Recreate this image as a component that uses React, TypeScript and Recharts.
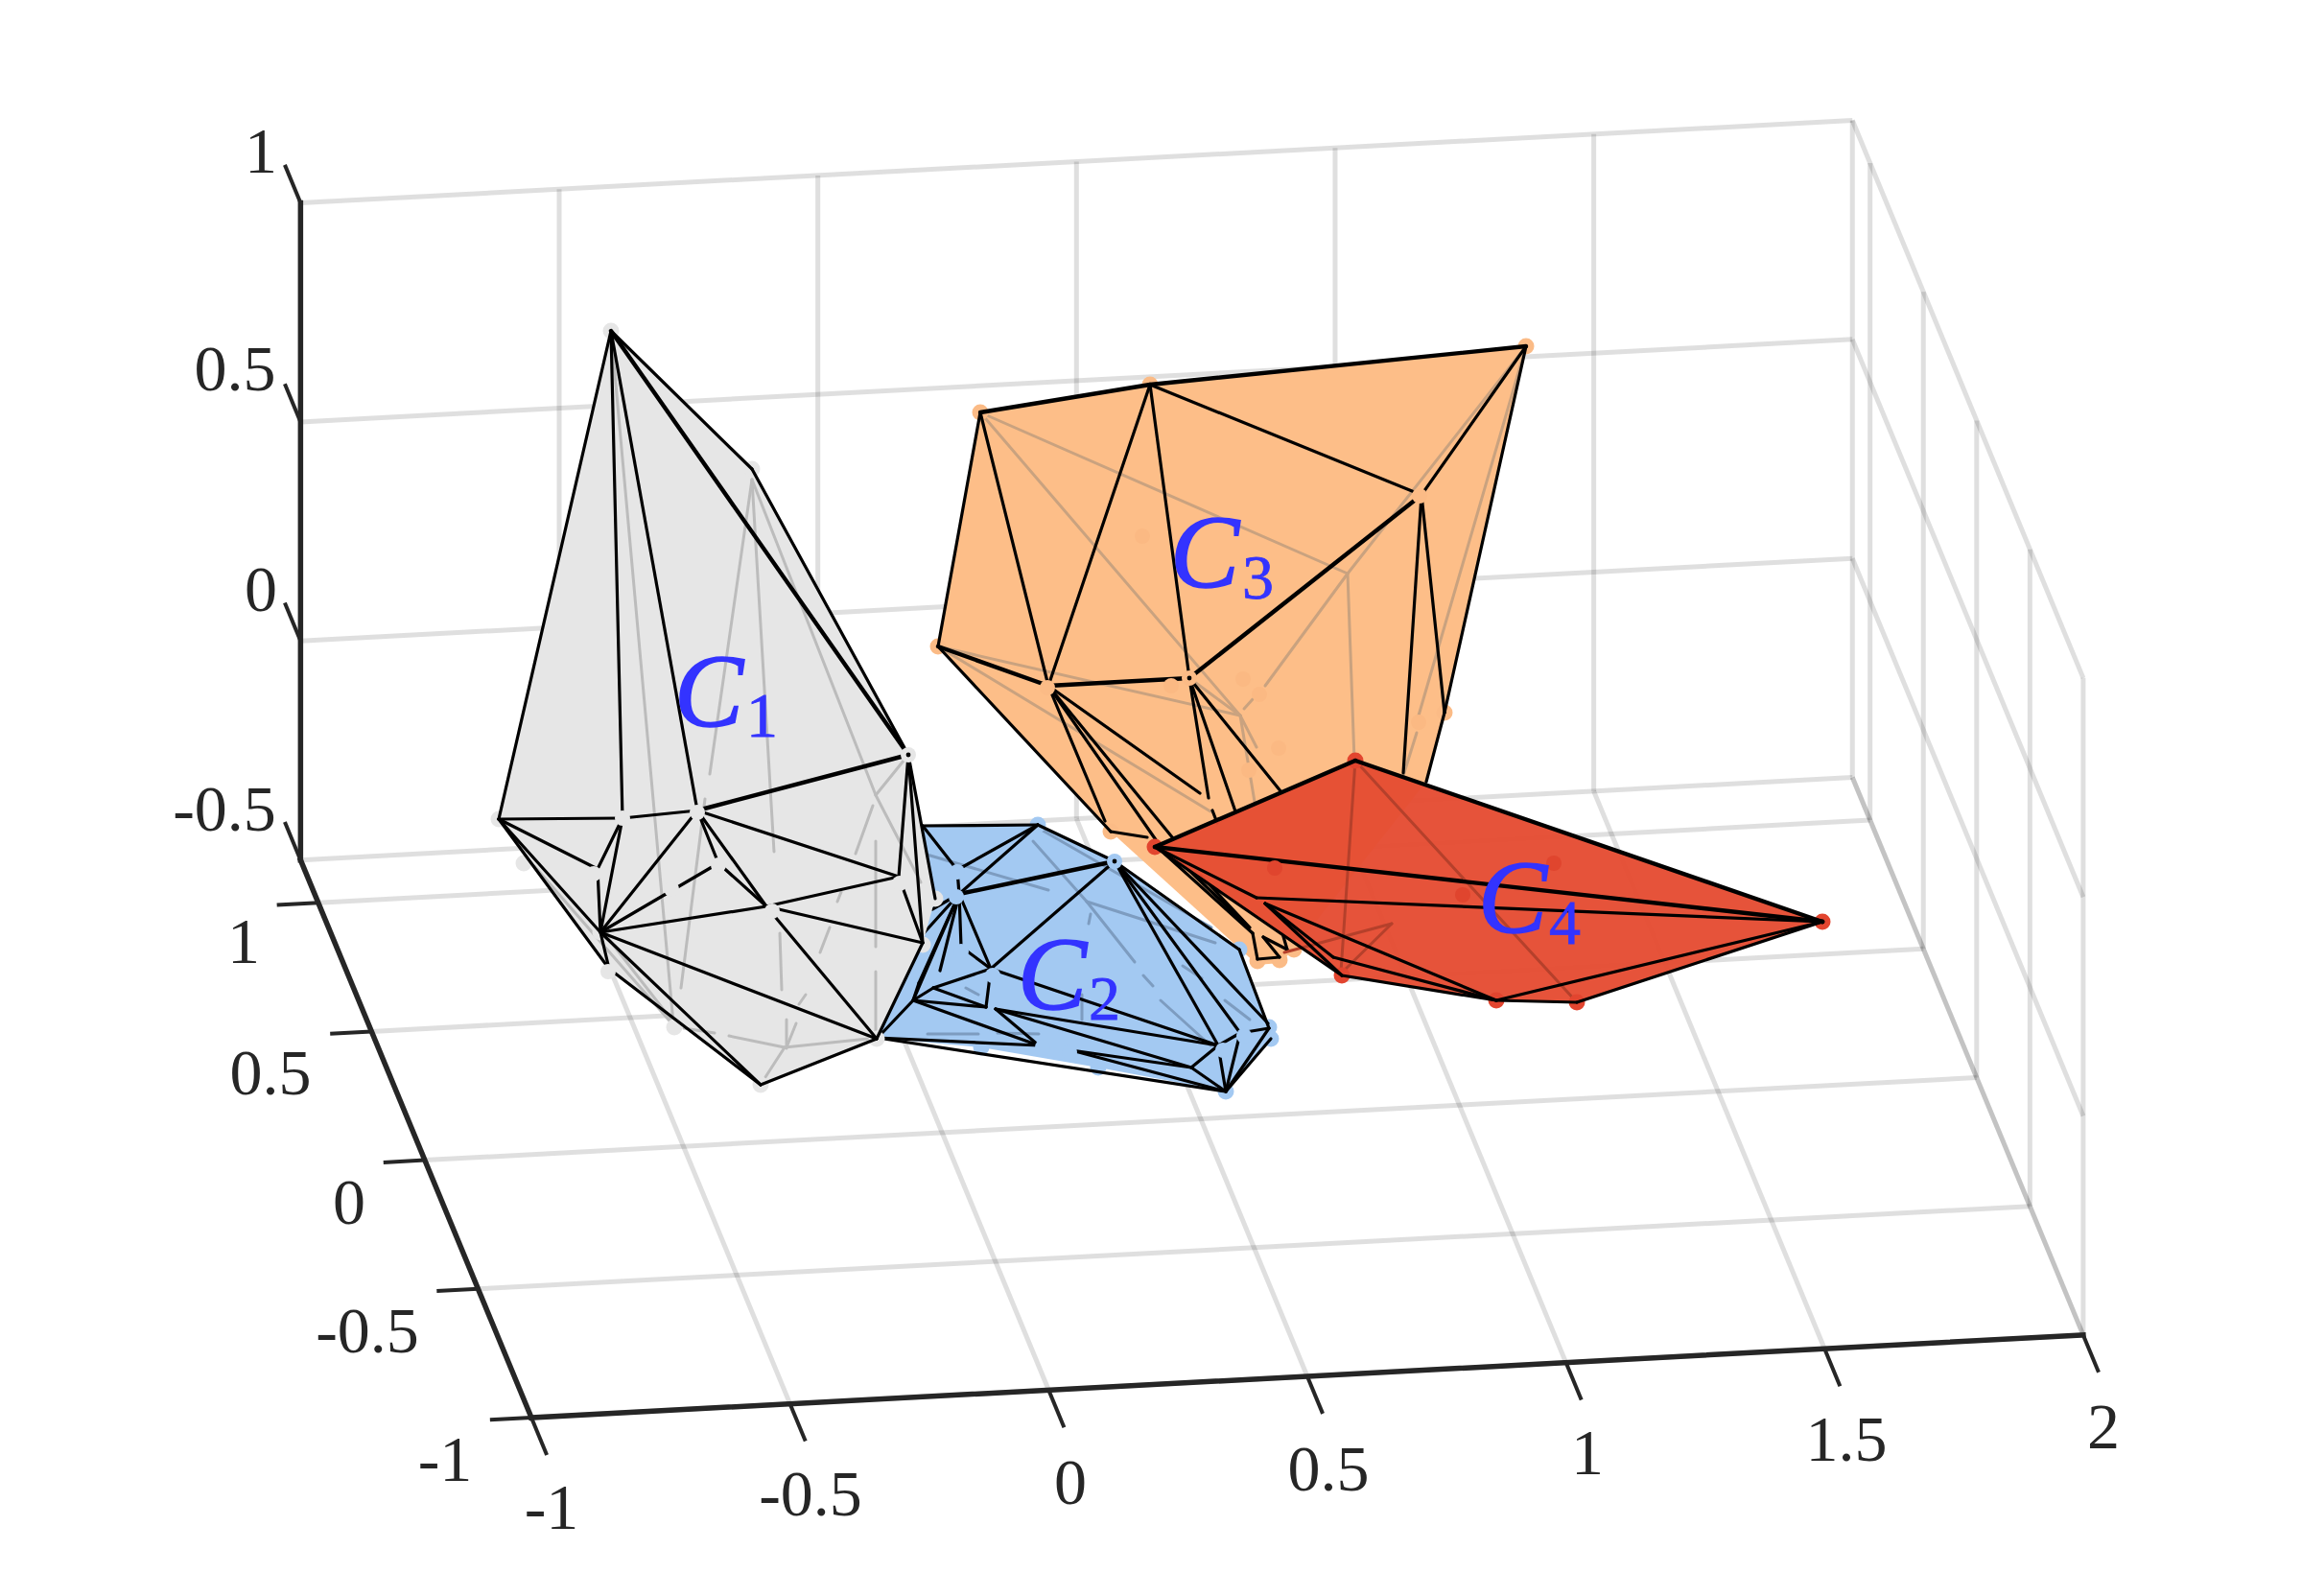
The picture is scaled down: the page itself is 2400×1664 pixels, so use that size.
import React from 'react';
import { ScatterChart, Scatter, XAxis, YAxis } from 'recharts';

// ---------- axis data ----------
const xTicks = [-1, -0.5, 0, 0.5, 1, 1.5, 2];
const yTicks = [-1, -0.5, 0, 0.5, 1];
const zTicks = [-0.5, 0, 0.5, 1];
const yMax = 1.166;
const xTickLabels = [
  { label: '-1', x: 575, y: 1571 }, { label: '-0.5', x: 845, y: 1557 }, { label: '0', x: 1116, y: 1545 },
  { label: '0.5', x: 1385, y: 1531 }, { label: '1', x: 1655, y: 1514 }, { label: '1.5', x: 1925, y: 1500 }, { label: '2', x: 2193, y: 1487 },
];
const yTickLabels = [
  { label: '-1', x: 464, y: 1521 }, { label: '-0.5', x: 383, y: 1387 }, { label: '0', x: 364, y: 1253 },
  { label: '0.5', x: 282, y: 1118 }, { label: '1', x: 254, y: 981 },
];
const zTickLabels = [
  { label: '-0.5', x: 234, y: 843 }, { label: '0', x: 272, y: 614 }, { label: '0.5', x: 245, y: 384 }, { label: '1', x: 272, y: 157 },
];
const clusterLabels = [
  { c: 'C', sub: '1', x: 703, y: 757, sx: 778, sy: 768 },
  { c: 'C', sub: '2', x: 1061, y: 1052, sx: 1135, sy: 1063 },
  { c: 'C', sub: '3', x: 1220, y: 612, sx: 1295, sy: 624 },
  { c: 'C', sub: '4', x: 1541, y: 972, sx: 1615, sy: 984 },
];

// orthographic view of the 3-D box, projected into picture units
const project = (x: number, y: number, z: number) => ({
  x: 554 + (x + 1) * 539.3 - (y + 1) * 111.1,
  y: 1478 - (x + 1) * 28.7 - (y + 1) * 268.4 - (z + 0.5) * 456.7,
});
const seg3 = (a: number[], b: number[]) => [project(a[0], a[1], a[2]), project(b[0], b[1], b[2])];

const gridSegments = [
  ...xTicks.map((x) => seg3([x, yMax, -0.5], [x, yMax, 1])),
  ...zTicks.map((z) => seg3([-1, yMax, z], [2, yMax, z])),
  ...yTicks.map((y) => seg3([2, y, -0.5], [2, y, 1])),
  ...zTicks.map((z) => seg3([2, yMax, z], [2, -1, z])),
  ...xTicks.map((x) => seg3([x, yMax, -0.5], [x, -1, -0.5])),
  ...yTicks.map((y) => seg3([-1, y, -0.5], [2, y, -0.5])),
];
const axisSegments = [
  seg3([-1, yMax, -0.5], [-1, yMax, 1]),
  seg3([-1, yMax, -0.5], [-1, -1, -0.5]),
  seg3([-1, -1, -0.5], [2, -1, -0.5]),
];
const tickSegments = [
  ...xTicks.map((x) => seg3([x, -1, -0.5], [x, -1.145, -0.5])),
  ...yTicks.map((y) => seg3([-1, y, -0.5], [-1.08, y, -0.5])),
  ...zTicks.map((z) => seg3([-1, yMax, z], [-1, yMax + 0.148, z])),
];

// ---------- cluster C1 ----------
const c1V: Record<string, number[]> = {
  A: [637, 345], B: [784, 489], R: [947, 787], L: [520, 854], M1: [649, 853], M2: [727, 845], P: [623, 906], Q: [626, 972],
  N: [749, 900], K: [799, 945], S: [937, 914], T: [962, 983], U: [914, 1083], V: [793, 1131], W: [635, 1010], X: [975, 937],
};
const c1Hull = ['A', 'B', 'R', 'X', 'T', 'U', 'V', 'W', 'L'];
const c1Edges = 'A-L A-M1 A-M2 A-B B-R L-M1 M1-M2 L-P L-Q L-W P-Q P-M1 Q-M1 Q-M2 Q-N M2-N M2-K N-K Q-K K-S K-T K-U M2-S S-R T-R S-T R-X Q-U Q-V Q-W W-V U-V T-U';
const c1Bold = 'A-R M2-R';
const c1Hidden = [
  [637, 345, 702, 1067], [784, 500, 740, 807], [735, 833, 710, 1030], [784, 500, 807, 888], [784, 500, 913, 829], [947, 787, 913, 829], [913, 829, 960, 920],
  [910, 840, 892, 890], [913, 877, 913, 987], [913, 1013, 913, 1080], [877, 930, 873, 940], [865, 967, 855, 993],
  [813, 973, 815, 1032], [820, 1063, 820, 1093], [830, 1067, 820, 1092], [840, 1037, 833, 1047],
  [818, 1092, 760, 1080], [818, 1092, 905, 1083], [818, 1092, 798, 1123], [713, 1072, 745, 1077], [557, 903, 703, 1070], [633, 977, 703, 1067],
];
const c1Under = [[637, 345], [784, 489], [520, 854], [546, 900], [703, 1071], [793, 1131], [914, 1083], [962, 985], [975, 937], [626, 972]];
const c1Over = [[649, 853], [727, 847], [947, 787], [619, 911], [749, 902], [805, 950], [938, 921], [634, 1013], [700, 927]];
const c1Dots = [[947, 787]];

// ---------- cluster C2 ----------
const c2V: Record<string, number[]> = {
  n: [962, 861], a: [1082, 860], b: [1162, 898], c: [1000, 932], cp: [998, 907], d: [1033, 1010], e: [1292, 990], e2: [1322, 1067],
  f: [1323, 1072], f2: [1325, 1083], g: [1278, 1138], h: [1270, 1090], i: [1293, 1077], j: [1242, 1113], k: [1145, 1113], l: [1023, 1092],
  m: [915, 1082], o: [1038, 1052], p: [1028, 1050], q: [973, 1030], r: [952, 1043], s: [958, 1025], t: [1083, 1090], u: [1117, 1095],
  v: [1002, 987], w: [980, 1012], x1: [963, 973], x2: [972, 948],
};
const c2Hull = ['n', 'a', 'b', 'e', 'f', 'f2', 'g', 'k', 'l', 'm'];
const c2Edges = 'n-a a-b a-cp a-c b-d c-d cp-c n-cp c-v c-w c-s c-r c-x1 c-x2 v-d d-q d-p d-h p-r q-p r-t o-h o-j o-t u-j h-j b-h b-i b-e2 b-e e-f i-f h-i h-g i-g f-g f2-g m-t m-g u-g j-g r-m r-s q-r';
const c2Bold = 'b-c';
const c2Hidden = [
  [1133, 940, 1077, 877], [1133, 940, 1183, 1003], [1082, 863, 1263, 967], [963, 890, 1093, 928], [1137, 953, 1135, 963], [1128, 1037, 1128, 1063],
  [1192, 1017, 1202, 1028], [1210, 1043, 1262, 1090], [1233, 1007, 1253, 1020], [1133, 940, 1267, 983], [967, 1078, 1020, 1078], [1040, 1077, 1083, 1078],
  [1007, 1030, 1020, 1037], [1277, 1043, 1303, 1063],
];
const c2Under = [[1082, 860], [1292, 990], [1323, 1071], [1325, 1083], [1278, 1138], [1145, 1113], [1023, 1092]];
const c2Over = [[1162, 898], [997, 935], [998, 909], [1035, 1017], [1275, 1095], [1297, 1080], [1002, 992], [1087, 1092], [1115, 1097]];
const c2Dots = [[1162, 898]];

// ---------- cluster C3 ----------
const c3V: Record<string, number[]> = {
  A: [1022, 430], B: [1199, 401], C: [1591, 361], D: [1482, 516], E: [978, 674], F: [1093, 715], G: [1240, 707], H: [1506, 743],
  I: [1487, 815], K: [1158, 867], F1: [1152, 856], F2: [1206, 877], F3: [1223, 874], F4: [1251, 827], G1: [1260, 832], G2: [1288, 846], G3: [1336, 826],
  D1: [1463, 806], K2: [1196, 873], P1: [1306, 973], P2: [1311, 1000], P3: [1334, 998], P4: [1342, 990], P5: [1317, 977], P6: [1337, 973],
  Q1: [1214, 890], Q2: [1232, 900], Q3: [1252, 913], Q4: [1298, 963], Q5: [1303, 967], H1: [1264, 845], H2: [1269, 858],
};
const c3Hull = [[1022, 430], [1199, 401], [1591, 361], [1506, 743], [1487, 815], [1349, 990], [1334, 1004], [1311, 1006], [1158, 867], [978, 674]];
const c3Edges = 'A-E C-H H-I C-D B-D B-G B-F A-F D-H D-D1 E-K F-F1 F-F2 F-F3 F-F4 G-G1 G-G2 G-G3 K-K2 Q1-P1 Q2-Q4 Q3-Q5 P1-P2 P2-P3 P3-P5 P5-P4 P6-P4 H1-H2';
const c3Bold = 'A-B B-C D-G E-F F-G';
const c3Hidden = [
  [1022, 430, 1405, 598], [1022, 430, 1293, 746], [978, 674, 1293, 746], [978, 674, 1262, 846], [1240, 707, 1293, 746], [1405, 598, 1591, 361],
  [1405, 598, 1319, 715], [1306, 729, 1297, 739], [1405, 598, 1412, 793], [1293, 746, 1310, 779], [1293, 746, 1308, 836], [1591, 361, 1479, 746], [1477, 764, 1462, 812],
];
const c3Under = [[1022, 430], [1199, 401], [1591, 361], [978, 674], [1506, 743], [1158, 867], [1311, 1002], [1334, 1001], [1349, 990]];
const c3Over = [[1480, 517], [1240, 707], [1092, 717]];
const c3Faint = [[1191, 559], [1296, 708], [1313, 724], [1333, 780], [1479, 753], [1221, 715], [1302, 803]];
const c3Dots = [[1240, 707]];

// ---------- cluster C4 ----------
const c4V: Record<string, number[]> = {
  a: [1204, 883], b: [1413, 793], c: [1900, 961], d: [1560, 1043], e: [1644, 1045], f: [1399, 1017], g: [1310, 936], h: [1319, 942], i: [1390, 998],
};
const c4Hull = ['a', 'b', 'c', 'e', 'd', 'f'];
const c4Edges = 'a-g g-c h-d h-i i-d h-f f-d d-e e-c d-c a-f';
const c4Bold = 'a-b b-c a-c';
const c4Hidden = [
  [1413, 793, 1398, 1013], [1413, 793, 1644, 1045], [1451, 963, 1339, 993], [1400, 1013, 1451, 963],
];
const c4Under = [[1204, 883], [1413, 793], [1900, 961], [1560, 1043], [1644, 1045], [1399, 1017]];
const c4Faint = [[1620, 900], [1525, 933], [1329, 905]];
const c4Dots = [[1900, 961]];

// ---------- helpers ----------
const pts = (list: number[][]) => list.map(([x, y]) => ({ x, y }));
const named = (v: Record<string, number[]>, s: string) =>
  s.split(' ').flatMap((e) => { const [a, b] = e.split('-'); return [{ x: v[a][0], y: v[a][1] }, { x: v[b][0], y: v[b][1] }]; });
const raw = (l: number[][]) => l.flatMap(([a, b, c, d]) => [{ x: a, y: b }, { x: c, y: d }]);

const noShape = () => null;
const segmentsLine = (stroke: string, width: number, opacity = 1, cap = 'butt') => (p: any) => {
  const out: any[] = [];
  for (let i = 0; i + 1 < p.points.length; i += 2) {
    out.push(<line key={i} x1={p.points[i].x} y1={p.points[i].y} x2={p.points[i + 1].x} y2={p.points[i + 1].y}
      stroke={stroke} strokeWidth={width} strokeOpacity={opacity} strokeLinecap={cap as any} />);
  }
  return <g>{out}</g>;
};
const edges = (key: string, data: any[], stroke: string, width: number, opacity = 1, cap = 'round') => (
  <Scatter key={key} data={data} dataKey="y" shape={noShape} isAnimationActive={false} line={segmentsLine(stroke, width, opacity, cap)} />
);
const polygon = (key: string, data: any[], fill: string, opacity = 1) => (
  <Scatter key={key} data={data} dataKey="y" shape={noShape} isAnimationActive={false}
    line={(p: any) => <polygon points={p.points.map((q: any) => `${q.x},${q.y}`).join(' ')} fill={fill} fillOpacity={opacity} stroke="none" />} />
);
const dots = (key: string, data: any[], fill: string, r: number) => (
  <Scatter key={key} data={data} dataKey="y" isAnimationActive={false}
    shape={(p: any) => <circle cx={p.cx} cy={p.cy} r={r} fill={fill} />} />
);
const tickText = (key: string, data: any[]) => (
  <Scatter key={key} data={data} dataKey="y" isAnimationActive={false}
    shape={(p: any) => (
      <text x={p.cx} y={p.cy} textAnchor="middle" dominantBaseline="central" fontFamily="'Liberation Serif', serif" fontSize={68} fill="#262626">
        {p.payload.label}
      </text>
    )} />
);
const labelText = (key: string, d: any) => (
  <Scatter key={key} data={[d]} dataKey="y" isAnimationActive={false}
    shape={(p: any) => (
      <g fill="#3333ff" stroke="#3333ff" fontFamily="'Liberation Serif', serif">
        <text x={p.cx} y={p.cy} fontSize={108} fontStyle="italic" strokeWidth={1.6}>{p.payload.c}</text>
        <text x={p.cx + (d.sx - d.x)} y={p.cy + (d.sy - d.y)} fontSize={66} strokeWidth={0.8}>{p.payload.sub}</text>
      </g>
    )} />
);

const cluster = (
  id: string, v: Record<string, number[]>, hull: any[], e: string, bold: string, hidden: number[][],
  under: number[][], over: number[][], black: number[][], fill: string, marker: string, hid: string, fillOp = 1,
) => [
  polygon(id + 'poly', hull.map((h) => (typeof h === 'string' ? { x: v[h][0], y: v[h][1] } : { x: h[0], y: h[1] })), fill, fillOp),
  edges(id + 'hid', raw(hidden), hid, 3),
  dots(id + 'under', pts(under), marker, 8.5),
  edges(id + 'edge', named(v, e), '#000000', 3.2),
  edges(id + 'bold', named(v, bold), '#000000', 4.4),
  dots(id + 'over', pts(over), marker, 8),
  dots(id + 'dot', pts(black), '#000000', 2.4),
];

export default function App() {
  return (
    <div style={{ position: 'absolute', left: 0, top: 0, width: 2400, height: 1664, background: '#ffffff' }}>
      <ScatterChart width={2400} height={1664} margin={{ top: 0, right: 0, bottom: 0, left: 0 }}>
        <XAxis type="number" dataKey="x" domain={[0, 2400]} hide />
        <YAxis type="number" dataKey="y" domain={[0, 1664]} reversed hide />
        {edges('grid', gridSegments.flat(), '#262626', 5, 0.15, 'butt')}
        {cluster('c3', c3V, c3Hull, c3Edges, c3Bold, c3Hidden, c3Under, c3Over, c3Dots, '#fdbe88', '#fbbb86', '#c9a27f')}
        {dots('c3faint', pts(c3Faint), '#fbb983', 8)}
        {cluster('c2', c2V, c2Hull, c2Edges, c2Bold, c2Hidden, c2Under, c2Over, c2Dots, '#a3c9f2', '#a3c9f2', '#7d9cc0')}
        {cluster('c1', c1V, c1Hull, c1Edges, c1Bold, c1Hidden, c1Under, c1Over, c1Dots, '#e6e6e6', '#e6e6e6', '#bcbcbc')}
        {cluster('c4', c4V, c4Hull, c4Edges, c4Bold, c4Hidden, c4Under, [], c4Dots, '#e54c32', '#e2452f', '#b5402b', 0.96)}
        {dots('c4faint', pts(c4Faint), '#e0452e', 8)}
        {edges('axes', axisSegments.flat(), '#262626', 5.5, 1, 'square')}
        {edges('ticks', tickSegments.flat(), '#262626', 4, 1, 'butt')}
        {tickText('xt', xTickLabels)}
        {tickText('yt', yTickLabels)}
        {tickText('zt', zTickLabels)}
        {clusterLabels.map((d, i) => labelText('lab' + i, d))}
      </ScatterChart>
    </div>
  );
}
